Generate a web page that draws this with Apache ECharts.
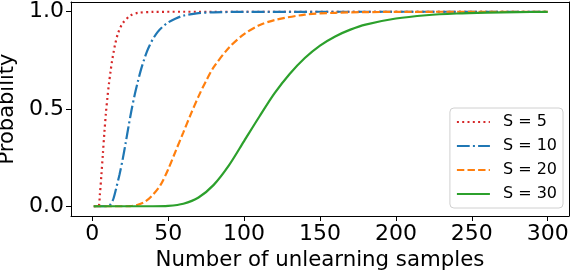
<!DOCTYPE html>
<html>
<head>
<meta charset="utf-8">
<script src="https://cdn.jsdelivr.net/npm/echarts@6/dist/echarts.min.js"></script>
<style>
html,body{margin:0;padding:0;background:#fff;}
#chart{width:574px;height:274px;}
</style>
</head>
<body>
<div id="chart"></div>
<script>
// ---- data ----
const seriesNames = ['S = 5', 'S = 10', 'S = 20', 'S = 30'];

const s5X = [1, 4, 5, 6, 7, 8, 9, 10, 11, 12, 13, 14, 15, 17, 20, 25, 30, 40, 60, 300];
const s5Y = [0, 0, 0.06, 0.16, 0.27, 0.38, 0.48, 0.56, 0.63, 0.69, 0.745, 0.79, 0.83, 0.89, 0.94, 0.98, 0.994, 0.999, 1, 1];

const s10X = [1, 10, 12, 14, 16, 18, 20, 22, 24, 26, 28, 30, 32, 34, 36, 38, 40, 43, 46, 50, 55, 60, 70, 80, 100, 300];
const s10Y = [0, 0, 0.01, 0.04, 0.10, 0.165, 0.24, 0.325, 0.415, 0.50, 0.575, 0.64, 0.70, 0.75, 0.795, 0.83, 0.86, 0.895, 0.92, 0.945, 0.965, 0.98, 0.993, 0.997, 0.9995, 1];

const s20X = [1, 20, 25, 30, 35, 40, 45, 50, 55, 60, 65, 70, 75, 80, 90, 100, 110, 120, 140, 160, 180, 220, 300];
const s20Y = [0, 0, 0.001, 0.008, 0.025, 0.06, 0.11, 0.19, 0.285, 0.38, 0.475, 0.565, 0.645, 0.715, 0.815, 0.885, 0.93, 0.957, 0.985, 0.9946, 0.998, 0.9997, 1];

const s30X = [1, 40, 50, 60, 70, 80, 90, 100, 110, 120, 130, 140, 150, 160, 170, 180, 200, 220, 240, 260, 280, 300];
const s30Y = [0, 0, 0.002, 0.013, 0.045, 0.11, 0.21, 0.335, 0.46, 0.58, 0.68, 0.762, 0.826, 0.873, 0.908, 0.934, 0.965, 0.982, 0.991, 0.9955, 0.998, 0.999];

const xTicks = [0, 50, 100, 150, 200, 250, 300];
const yTicks = [0, 0.5, 1.0];
const xLabel = 'Number of unlearning samples';
const yLabel = 'Probability';

// ---- build chart ----
const colors = ['#d62728', '#1f77b4', '#ff7f0e', '#2ca02c'];
const dashes = [[2, 3.3], [12.8, 3.2, 2, 3.2], [7.4, 3.2], 'solid'];
const xs = [s5X, s10X, s20X, s30X];
const ys = [s5Y, s10Y, s20Y, s30Y];

const FONT = 'DejaVu Sans';
const chart = echarts.init(document.getElementById('chart'), null, {renderer: 'canvas'});

const series = seriesNames.map((name, i) => ({
  name: name,
  type: 'line',
  data: xs[i].map((x, k) => [x, ys[i][k]]),
  showSymbol: false,
  symbol: 'none',
  smooth: 0.3,
  color: colors[i],
  lineStyle: {color: colors[i], width: 2.2, type: dashes[i], cap: 'butt'},
  animation: false,
  z: 2 + i
}));

const X_MIN = -14, X_MAX = 314, Y_MIN = -0.05, Y_MAX = 1.05;
const frameLine = {show: true, onZero: false, lineStyle: {color: '#000', width: 1}};

chart.setOption({
  animation: false,
  backgroundColor: '#fff',
  textStyle: {fontFamily: FONT},
  grid: {left: 71, right: 5, top: 2, bottom: 58, containLabel: false, outerBoundsMode: 'none'},
  xAxis: [{
    type: 'value', min: X_MIN, max: X_MAX, position: 'bottom',
    name: xLabel, nameLocation: 'middle', nameGap: 34,
    nameTextStyle: {fontFamily: FONT, fontSize: 21.3, color: '#000'},
    axisLine: frameLine,
    axisTick: {show: true, length: 5, inside: false, lineStyle: {color: '#000', width: 1}, customValues: xTicks},
    axisLabel: {show: true, margin: 7, fontFamily: FONT, fontSize: 22, color: '#000', customValues: xTicks, formatter: v => String(v)},
    splitLine: {show: false}
  }, {
    type: 'value', min: X_MIN, max: X_MAX, position: 'top',
    axisLine: frameLine, axisTick: {show: false}, axisLabel: {show: false}, splitLine: {show: false}
  }],
  yAxis: [{
    type: 'value', min: Y_MIN, max: Y_MAX, position: 'left',
    name: yLabel, nameLocation: 'middle', nameGap: 48, nameRotate: 90,
    nameTextStyle: {fontFamily: FONT, fontSize: 21, color: '#000'},
    axisLine: frameLine,
    axisTick: {show: true, length: 5, inside: false, lineStyle: {color: '#000', width: 1}, customValues: yTicks},
    axisLabel: {show: true, margin: 7, fontFamily: FONT, fontSize: 22, color: '#000', customValues: yTicks, formatter: v => v.toFixed(1)},
    splitLine: {show: false}
  }, {
    type: 'value', min: Y_MIN, max: Y_MAX, position: 'right',
    axisLine: frameLine, axisTick: {show: false}, axisLabel: {show: false}, splitLine: {show: false}
  }],
  legend: {
    orient: 'vertical', right: 11, top: 108,
    data: seriesNames,
    itemWidth: 33, itemHeight: 14, itemGap: 8,
    padding: [6, 6, 6, 6],
    backgroundColor: 'rgba(255,255,255,0.8)',
    borderColor: '#d0d0d0', borderWidth: 1, borderRadius: 4,
    itemStyle: {opacity: 0},
    lineStyle: {opacity: 1},
    textStyle: {fontFamily: FONT, fontSize: 16, color: '#000', lineHeight: 16, padding: [0, 0, 0, 8]}
  },
  series: series
});
</script>
</body>
</html>
